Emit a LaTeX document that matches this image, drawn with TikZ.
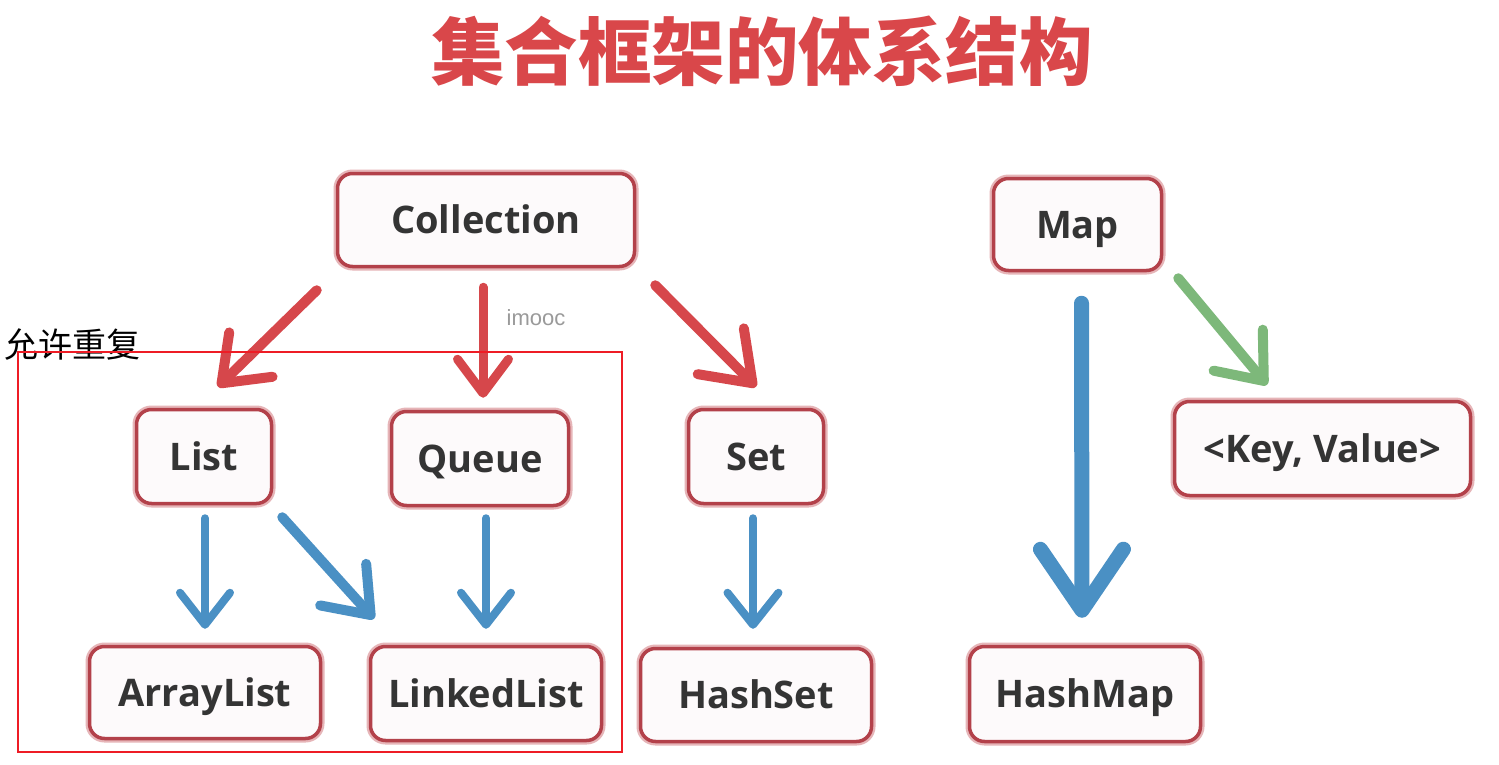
\documentclass[tikz,border=0pt]{standalone}
\usepackage{fontspec}
\setmainfont{Open Sans}
\newfontfamily\cjk{Noto Sans CJK SC}
\newfontfamily\wmk{Liberation Sans}
\usetikzlibrary{arrows.meta,calc}
\definecolor{boxred}{HTML}{B3414A}
\definecolor{boxglow}{HTML}{E6B5B8}
\definecolor{boxfill}{HTML}{FDFAFB}
\definecolor{txt}{HTML}{343434}
\definecolor{arrred}{HTML}{D6474B}
\definecolor{arrblue}{HTML}{4A90C4}
\definecolor{arrgreen}{HTML}{7DB87A}
\definecolor{titlered}{HTML}{D9474A}
\definecolor{rectred}{HTML}{EE1C25}
\definecolor{wmgray}{HTML}{9A9A9A}
\tikzset{
  box/.style={draw=boxred, line width=3.5pt, fill=boxfill, rounded corners=15pt,
    inner sep=0pt, text=txt, font=\fontsize{38}{40}\selectfont\bfseries,
    text height=27pt, text depth=0pt, preaction={draw=boxglow, line width=8pt}},
  conn/.style={line width=#1, line cap=round, line join=round},
  redc/.style={conn=10pt, draw=arrred},
  bluec/.style={conn=#1, draw=arrblue},
  greenc/.style={conn=10pt, draw=arrgreen},
}
\begin{document}
\begin{tikzpicture}[x=1pt,y=-1pt]
\useasboundingbox[fill=white] (0,0) rectangle (1499,765);
% title
\node[anchor=base, text=titlered, font=\cjk\bfseries\fontsize{73.5}{74}\selectfont, inner sep=0pt] (title) at (762,80) {集合框架的体系结构};
% boxes
\node[box, minimum width=297pt, minimum height=93pt] (coll) at (486,220) {Collection};
\node[box, minimum width=168pt, minimum height=92pt] (map) at (1077.5,224.5) {Map};
\node[box, minimum width=135pt, minimum height=94pt] (list) at (204,456.5) {List};
\node[box, minimum width=177pt, minimum height=94pt] (queue) at (480,458.5) {Queue};
\node[box, minimum width=135pt, minimum height=94pt] (set) at (756,456.5) {Set};
\node[box, minimum width=296pt, minimum height=94pt] (kv) at (1322.5,448.5) {<Key, Value>};
\node[box, minimum width=231pt, minimum height=92pt] (al) at (205,692.5) {ArrayList};
\node[box, minimum width=231pt, minimum height=94pt] (ll) at (486,693.5) {LinkedList};
\node[box, minimum width=231pt, minimum height=93pt] (hs) at (756,695) {HashSet};
\node[box, minimum width=231pt, minimum height=95pt] (hm) at (1085,694) {HashMap};
% connectors
\draw[redc, -{Straight Barb[length=41pt,width=62pt,round]}] ($(coll.south west)+(-19,22)$) -- ($(list.north)+(14,-21)$);
\draw[redc, line width=9pt, -{Straight Barb[length=34pt,width=51pt,round]}] ($(coll.south)+(-3,19)$) -- ($(queue.north)+(3,-12)$);
\draw[redc, -{Straight Barb[length=45pt,width=65pt,round]}] ($(coll.south east)+(19,17)$) -- ($(set.north)+(0,-21)$);
\draw[greenc, -{Straight Barb[length=40pt,width=64pt,round]}] ($(map.south east)+(15,6)$) -- ($(kv.north)+(-55.5,-15)$);
\draw[bluec=15pt, -{Straight Barb[length=61pt,width=83pt,round]}] ($(map.south)+(4,31)$) -- ($(hm.north)+(-3,-27)$);
\draw[bluec=8pt, -{Straight Barb[length=32pt,width=50pt,round]}] ($(list.south)+(1,13)$) -- ($(al.north)+(0,-16)$);
\draw[bluec=10pt, -{Straight Barb[length=41pt,width=62pt,round]}] ($(list.south east)+(9,12)$) -- ($(ll.north)+(-112,-26)$);
\draw[bluec=8pt, -{Straight Barb[length=32pt,width=50pt,round]}] ($(queue.south)+(6,11)$) -- ($(ll.north)+(0,-16)$);
\draw[bluec=8pt, -{Straight Barb[length=32pt,width=51pt,round]}] ($(set.south)+(-3,13)$) -- ($(hs.north)+(-3,-18)$);
% watermark
\node[anchor=base, text=wmgray, font=\wmk\fontsize{22}{22}\selectfont, inner sep=0pt] (wm) at (536,325) {imooc};
% annotation
\node[anchor=base west, font=\cjk\fontsize{34}{34}\selectfont, inner sep=0pt] (dup) at (4,357) {允许重复};
\draw[rectred, line width=1.5pt] (18,352) rectangle (622,752);
\end{tikzpicture}
\end{document}
